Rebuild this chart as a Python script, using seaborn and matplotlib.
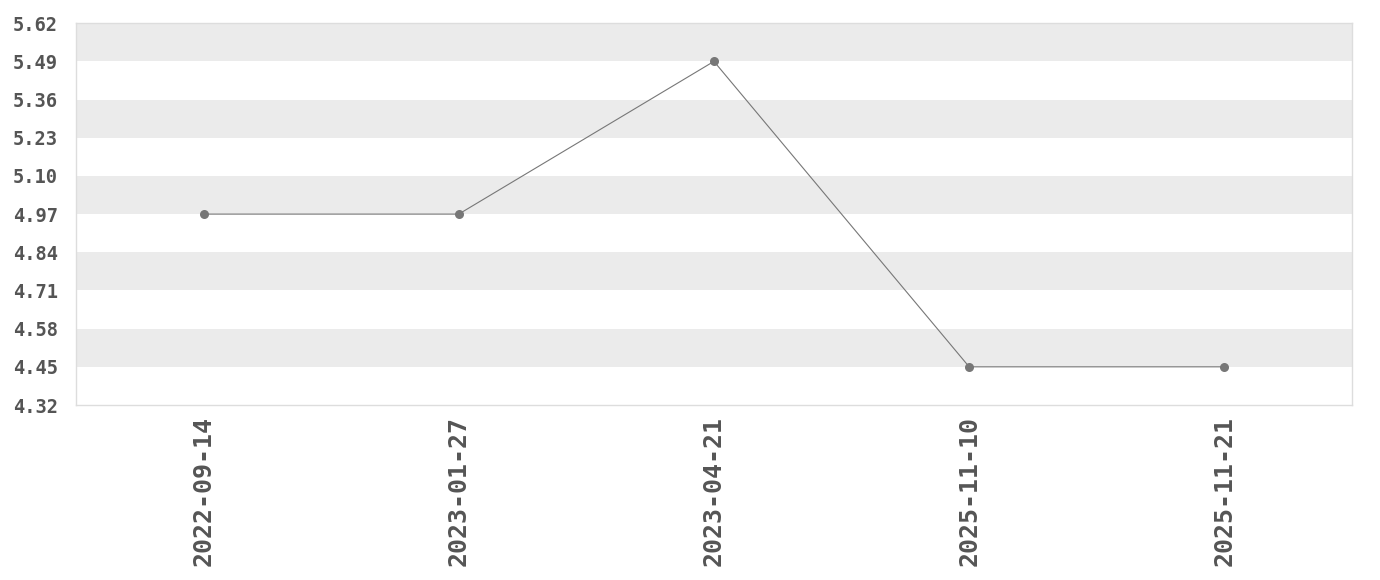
import numpy as np
import pandas as pd
import matplotlib
matplotlib.use('Agg')
import matplotlib.pyplot as plt
import seaborn as sns

dates = ['2022-09-14', '2023-01-27', '2023-04-21', '2025-11-10', '2025-11-21']
values = [4.97, 4.97, 5.49, 4.45, 4.45]
y_ticks = [4.32, 4.45, 4.58, 4.71, 4.84, 4.97, 5.10, 5.23, 5.36, 5.49, 5.62]

sns.set_theme(style='white')
plt.rcParams['font.family'] = ['DejaVu Sans Mono', 'Liberation Mono']

df = pd.DataFrame({'date': dates, 'value': values})

fig, ax = plt.subplots(figsize=(13.8, 5.8), dpi=100)
fig.subplots_adjust(left=0.055, right=0.9797, top=0.960, bottom=0.3017)

# alternating grey bands between every other tick
for i in range(len(y_ticks) - 1):
    if i % 2 == 1:
        ax.axhspan(y_ticks[i], y_ticks[i + 1], color='#ebebeb', lw=0, zorder=0)

sns.lineplot(data=df, x='date', y='value', ax=ax, color='#777777', linewidth=0.8,
             marker='o', markersize=6.5, markeredgewidth=0, sort=False, zorder=3)

ax.set_xlim(-0.5, len(dates) - 0.5)
ax.set_ylim(y_ticks[0], y_ticks[-1])
ax.set_yticks(y_ticks)
ax.set_yticklabels([f'{t:.2f}' for t in y_ticks])
ax.set_xlabel('')
ax.set_ylabel('')
ax.tick_params(axis='both', length=0, labelcolor='#555555')
ax.tick_params(axis='y', pad=13, labelsize=13.5)
ax.tick_params(axis='x', rotation=90, pad=8, labelsize=18)
for lab in ax.get_xticklabels() + ax.get_yticklabels():
    lab.set_fontweight('bold')
for sp in ax.spines.values():
    sp.set_color('#dddddd')
    sp.set_linewidth(1)

fig.savefig('out.png', dpi=100)
